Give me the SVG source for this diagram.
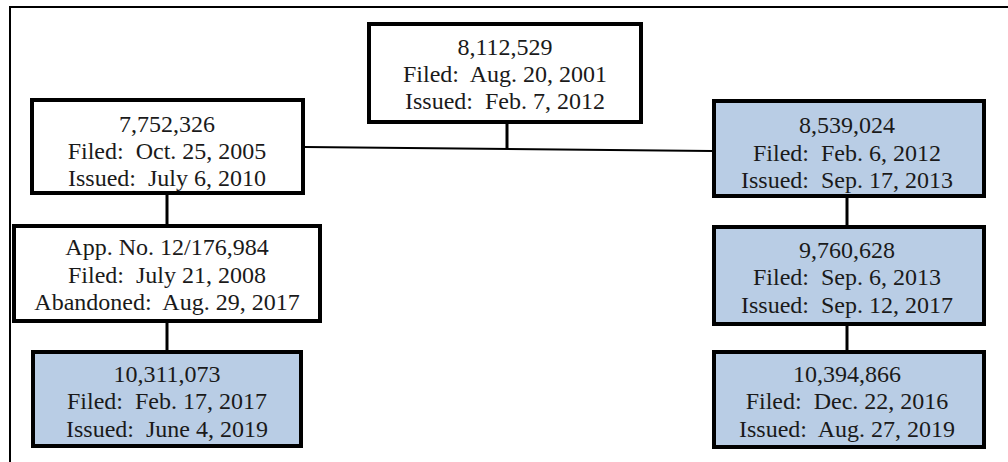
<svg xmlns="http://www.w3.org/2000/svg" width="1008" height="462" viewBox="0 0 1008 462">
<style>
.box{stroke:#000;stroke-width:4;fill:#fff}
.blue{fill:#b9cde5}
.t{font-family:'Liberation Serif','Times New Roman',serif;font-size:24px;fill:#1a1a1a;text-anchor:middle;white-space:pre}
.c{stroke:#000;fill:none}
</style>
<rect width="1008" height="462" fill="#fff"/>
<g id="frame">
<path d="M1008 7 H10 V462" fill="none" stroke="#000" stroke-width="2"/>
</g>
<g id="connectors">
<line class="c" x1="305" y1="147" x2="712" y2="151" stroke-width="2"/>
<line class="c" x1="507" y1="124" x2="507" y2="149" stroke-width="3"/>
<line class="c" x1="167" y1="195" x2="167" y2="224" stroke-width="3"/>
<line class="c" x1="167" y1="323" x2="167" y2="350" stroke-width="3"/>
<line class="c" x1="847" y1="198" x2="847" y2="225" stroke-width="3"/>
<line class="c" x1="847" y1="326" x2="847" y2="350" stroke-width="3"/>
</g>
<g id="n8112529">
<rect class="box" x="369" y="24" width="272" height="98"/>
<text class="t" x="505" y="55">8,112,529</text>
<text class="t" x="505" y="82">Filed:  Aug. 20, 2001</text>
<text class="t" x="505" y="109">Issued:  Feb. 7, 2012</text>
</g>
<g id="n7752326">
<rect class="box" x="32" y="100" width="271" height="93"/>
<text class="t" x="167" y="132">7,752,326</text>
<text class="t" x="167" y="159">Filed:  Oct. 25, 2005</text>
<text class="t" x="167" y="186">Issued:  July 6, 2010</text>
</g>
<g id="napp">
<rect class="box" x="14" y="226" width="306" height="95"/>
<text class="t" x="167" y="255">App. No. 12/176,984</text>
<text class="t" x="167" y="283">Filed:  July 21, 2008</text>
<text class="t" x="167" y="310">Abandoned:  Aug. 29, 2017</text>
</g>
<g id="n10311073">
<rect class="box blue" x="33" y="352" width="268" height="94"/>
<text class="t" x="167" y="382">10,311,073</text>
<text class="t" x="167" y="409">Filed:  Feb. 17, 2017</text>
<text class="t" x="167" y="437">Issued:  June 4, 2019</text>
</g>
<g id="n8539024">
<rect class="box blue" x="714" y="101" width="270" height="95"/>
<text class="t" x="847" y="133">8,539,024</text>
<text class="t" x="847" y="161">Filed:  Feb. 6, 2012</text>
<text class="t" x="847" y="188">Issued:  Sep. 17, 2013</text>
</g>
<g id="n9760628">
<rect class="box blue" x="714" y="227" width="270" height="97"/>
<text class="t" x="847" y="258">9,760,628</text>
<text class="t" x="847" y="285">Filed:  Sep. 6, 2013</text>
<text class="t" x="847" y="313">Issued:  Sep. 12, 2017</text>
</g>
<g id="n10394866">
<rect class="box blue" x="714" y="352" width="270" height="95"/>
<text class="t" x="847" y="382">10,394,866</text>
<text class="t" x="847" y="409">Filed:  Dec. 22, 2016</text>
<text class="t" x="847" y="437">Issued:  Aug. 27, 2019</text>
</g>
</svg>
